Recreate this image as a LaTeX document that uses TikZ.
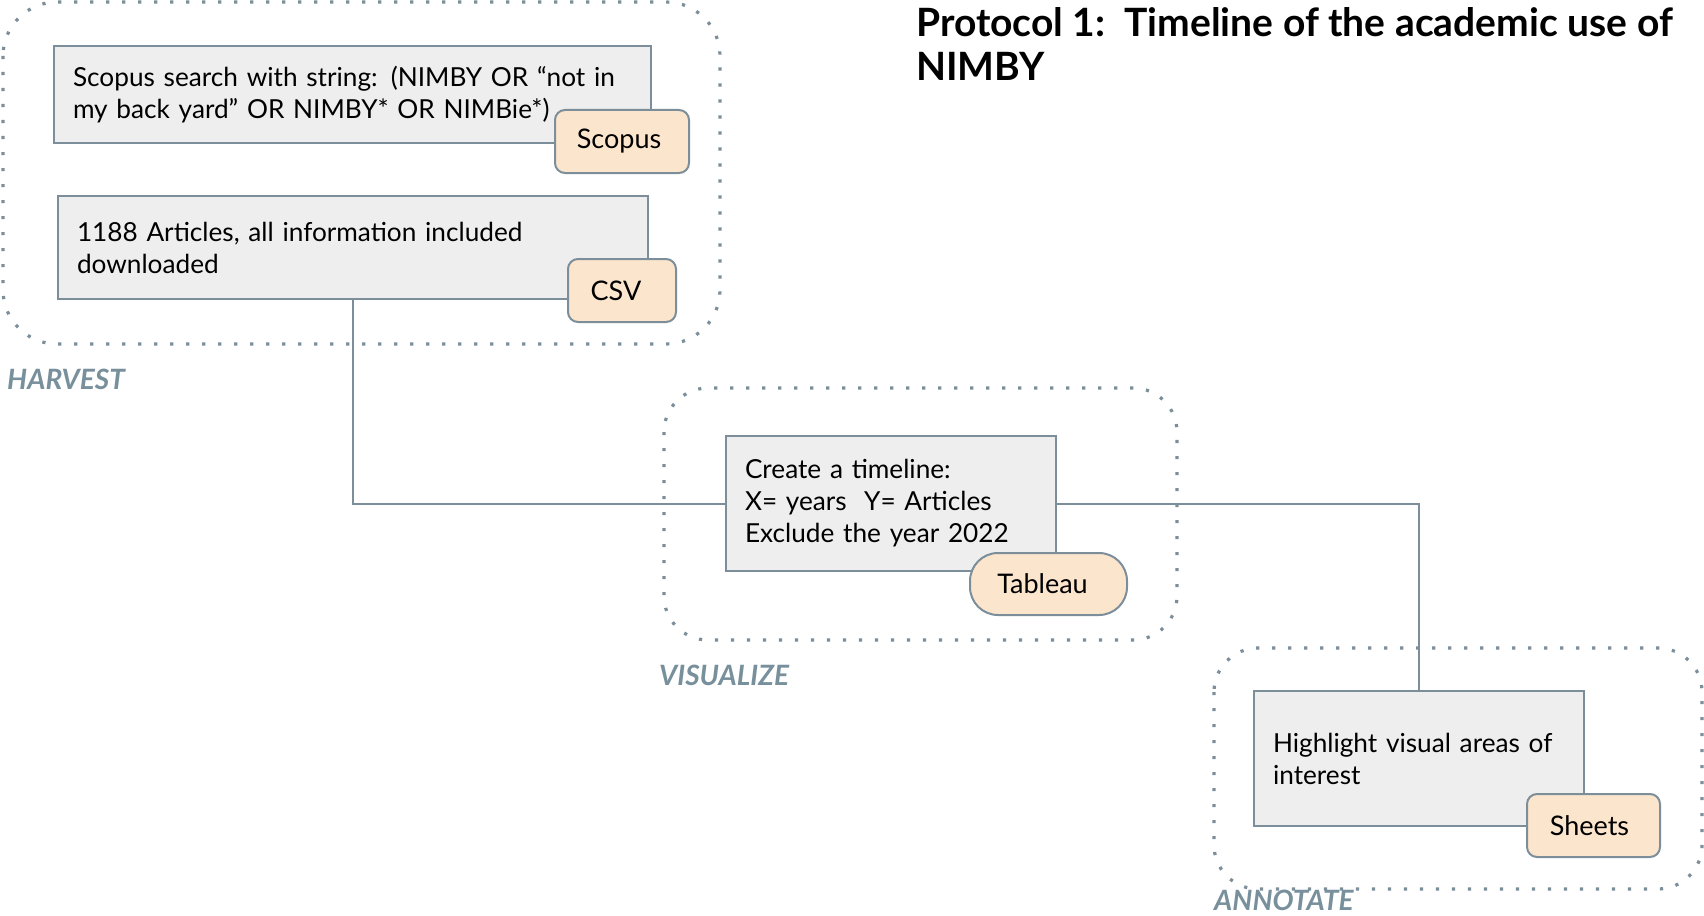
\documentclass[tikz,border=0pt]{standalone}
\usepackage{fontspec}
\setmainfont{Lato}
\definecolor{edge}{HTML}{7B8E9A}
\definecolor{boxfill}{HTML}{EEEEEE}
\definecolor{tagfill}{HTML}{FCE5CD}
\definecolor{lbl}{HTML}{78909C}
\begin{document}
\begin{tikzpicture}[x=1pt,y=-1pt,
  stepbox/.style={draw=edge,line width=2pt,fill=boxfill,rectangle,inner xsep=19pt,inner ysep=0pt,align=left,
    font=\fontsize{26.2}{32}\selectfont},
  tagbox/.style={draw=edge,line width=2pt,fill=tagfill,rectangle,rounded corners=10pt,inner sep=0pt,
    font=\fontsize{27}{30}\selectfont},
  group/.style={draw=edge,line width=3.2pt,dash pattern=on 3.2pt off 12.8pt},
  grouplabel/.style={text=lbl,font=\fontsize{28}{30}\selectfont\bfseries\itshape,inner sep=0pt,anchor=west},
  conn/.style={draw=edge,line width=2pt}]
\useasboundingbox (0,0) rectangle (1704,915);
% groups
\draw[group,rounded corners=54pt] (3,2) rectangle (720,344);
\draw[group,rounded corners=44pt] (664,388) rectangle (1177,640);
\draw[group,rounded corners=44pt] (1214,648) rectangle (1702,889);
% step boxes
\node[stepbox,minimum width=597pt,minimum height=97pt,text width=559pt] (scopusbox) at (352.5,94.5)
  {Scopus search with string: (NIMBY OR “not in\\my back yard” OR NIMBY* OR NIMBie*)};
\node[stepbox,minimum width=590pt,minimum height=103pt,text width=552pt] (articles) at (353,247.5)
  {1188 Articles, all information included\\downloaded};
\node[stepbox,minimum width=330pt,minimum height=135pt,text width=292pt] (timeline) at (891,503.5)
  {Create a timeline:\\X= years\ \ Y= Articles\\Exclude the year 2022};
\node[stepbox,minimum width=330pt,minimum height=135pt,text width=292pt] (highlight) at (1419,758.5)
  {Highlight visual areas of\\interest};
% connectors
\draw[conn] (articles.south) |- (timeline.west);
\draw[conn] (timeline.east) -| (highlight.north);
% tags
\node[tagbox,minimum width=134pt,minimum height=63pt] (scopus) at (622,141.5) {\hspace*{-6pt}Scopus};
\node[tagbox,minimum width=108pt,minimum height=63pt] (csv) at (622,290.5) {\hspace*{-12pt}CSV};
\node[tagbox,minimum width=157pt,minimum height=62pt,rounded corners=28pt] (tableau) at (1048.5,584) {\hspace*{-12pt}Tableau};
\node[tagbox,minimum width=133pt,minimum height=63pt] (sheets) at (1593.5,825.5) {\hspace*{-8pt}Sheets};
% labels
\node[grouplabel] (harvest) at (7,379) {HARVEST};
\node[grouplabel] (visualize) at (659,675) {VISUALIZE};
\node[grouplabel] (annotate) at (1214,900) {ANNOTATE};
% title
\node[anchor=north west,inner sep=0pt,align=left,font=\fontsize{39}{44}\selectfont\bfseries] (title) at (916,7)
  {Protocol 1:\ \ Timeline of the academic use of\\NIMBY};
\end{tikzpicture}
\end{document}
